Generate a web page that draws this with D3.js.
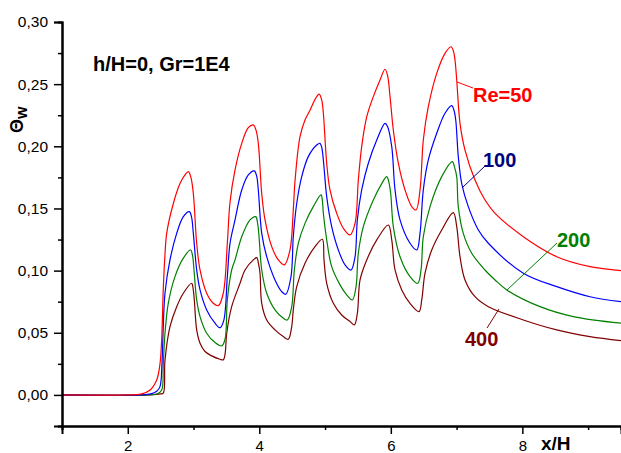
<!DOCTYPE html>
<html><head><meta charset="utf-8">
<script src="https://cdn.jsdelivr.net/npm/d3@7"></script>
<style>body{margin:0;background:#fff}svg{display:block}text{font-family:"Liberation Sans",Arial,sans-serif}</style>
</head><body><svg id="c" width="621" height="453"></svg>
<script>
const re50 = [[1,0],[2.0,0],[2.2,0.0006],[2.34,0.004],[2.44,0.012],[2.49,0.025],[2.516,0.045],[2.54,0.085],[2.566,0.113],[2.592,0.130],[2.693,0.154],[2.794,0.170],[2.87,0.177],[2.921,0.1796],[2.96,0.175],[2.997,0.162],[3.048,0.122],[3.099,0.1005],[3.2,0.0818],[3.301,0.0737],[3.377,0.0718],[3.453,0.082],[3.514,0.122],[3.555,0.155],[3.631,0.181],[3.733,0.2024],[3.833,0.215],[3.909,0.2172],[3.95,0.213],[3.985,0.2024],[4.037,0.162],[4.087,0.1408],[4.189,0.1193],[4.289,0.1086],[4.38,0.1046],[4.467,0.1166],[4.517,0.1488],[4.543,0.172],[4.619,0.2078],[4.695,0.2212],[4.771,0.229],[4.85,0.238],[4.91,0.242],[4.95,0.237],[4.974,0.2266],[5.025,0.1864],[5.075,0.1649],[5.177,0.1461],[5.278,0.1341],[5.38,0.1287],[5.456,0.138],[5.506,0.1729],[5.557,0.1997],[5.634,0.2238],[5.734,0.240],[5.836,0.2534],[5.912,0.262],[5.95,0.257],[5.988,0.240],[6.038,0.2131],[6.114,0.1864],[6.216,0.1649],[6.318,0.1515],[6.383,0.1488],[6.444,0.1649],[6.494,0.2051],[6.57,0.2319],[6.698,0.2587],[6.824,0.2748],[6.915,0.2801],[6.955,0.276],[6.976,0.2694],[7.002,0.2534],[7.052,0.2185],[7.128,0.197],[7.28,0.1729],[7.432,0.1568],[7.585,0.1461],[8.015,0.1273],[8.523,0.1112],[9.029,0.1032],[9.5,0.100]];
const re100 = [[1,0],[2.2,0],[2.35,0.0008],[2.44,0.003],[2.49,0.0067],[2.52,0.025],[2.54,0.055],[2.566,0.0818],[2.642,0.1086],[2.744,0.130],[2.845,0.1434],[2.936,0.1474],[2.97,0.143],[2.997,0.130],[3.048,0.1005],[3.099,0.0845],[3.2,0.0684],[3.327,0.0577],[3.403,0.0541],[3.46,0.060],[3.514,0.0952],[3.555,0.122],[3.631,0.1408],[3.733,0.1649],[3.833,0.177],[3.924,0.1802],[3.96,0.176],[3.985,0.1649],[4.037,0.130],[4.113,0.1112],[4.239,0.0925],[4.341,0.0831],[4.402,0.081],[4.482,0.0952],[4.517,0.1273],[4.569,0.154],[4.645,0.1756],[4.745,0.1917],[4.873,0.201],[4.923,0.2024],[4.95,0.199],[4.974,0.189],[5.025,0.1595],[5.101,0.1354],[5.202,0.1166],[5.304,0.1046],[5.395,0.1005],[5.456,0.1112],[5.491,0.1408],[5.557,0.1649],[5.658,0.1864],[5.786,0.2051],[5.912,0.2185],[5.95,0.216],[6.014,0.1997],[6.064,0.1649],[6.14,0.1408],[6.292,0.122],[6.394,0.1166],[6.444,0.130],[6.494,0.1649],[6.57,0.189],[6.698,0.2105],[6.824,0.2266],[6.926,0.2327],[6.96,0.229],[6.987,0.2212],[7.026,0.1917],[7.078,0.170],[7.178,0.1515],[7.331,0.1327],[7.483,0.122],[8.015,0.0979],[8.523,0.0871],[9.029,0.079],[9.5,0.075]];
const re200 = [[1,0],[2.3,0],[2.45,0.001],[2.516,0.004],[2.54,0.025],[2.566,0.0496],[2.616,0.0737],[2.718,0.0952],[2.845,0.110],[2.957,0.1166],[2.985,0.112],[3.007,0.1005],[3.048,0.0764],[3.099,0.063],[3.2,0.0496],[3.327,0.0421],[3.429,0.0394],[3.48,0.045],[3.514,0.0764],[3.58,0.1005],[3.631,0.1086],[3.733,0.1273],[3.859,0.1408],[3.946,0.1434],[3.975,0.138],[3.996,0.1273],[4.037,0.1005],[4.113,0.0818],[4.239,0.0684],[4.365,0.0617],[4.426,0.0603],[4.493,0.071],[4.533,0.1005],[4.593,0.122],[4.695,0.138],[4.821,0.1515],[4.939,0.1609],[4.96,0.156],[4.974,0.1461],[5.025,0.1247],[5.101,0.1032],[5.228,0.0885],[5.329,0.0804],[5.415,0.0764],[5.471,0.0871],[5.506,0.114],[5.582,0.1354],[5.734,0.1568],[5.862,0.170],[5.938,0.1756],[5.975,0.170],[5.998,0.1622],[6.038,0.1354],[6.14,0.1112],[6.292,0.0952],[6.409,0.0898],[6.459,0.1005],[6.494,0.1273],[6.596,0.1515],[6.774,0.1756],[6.935,0.1877],[6.97,0.183],[7.002,0.1756],[7.026,0.1515],[7.102,0.130],[7.23,0.114],[7.432,0.1005],[7.585,0.0925],[7.763,0.0845],[8.269,0.071],[8.775,0.063],[9.5,0.0577]];
const re400 = [[1,0],[2.35,0],[2.5,0.0008],[2.54,0.0014],[2.566,0.028],[2.642,0.055],[2.744,0.071],[2.845,0.0818],[2.972,0.0898],[2.995,0.085],[3.012,0.0764],[3.048,0.0523],[3.099,0.0416],[3.175,0.0349],[3.276,0.0314],[3.403,0.0287],[3.453,0.0282],[3.48,0.033],[3.505,0.0496],[3.58,0.071],[3.707,0.0898],[3.783,0.1005],[3.909,0.1086],[3.961,0.1104],[3.99,0.105],[4.011,0.0979],[4.037,0.0737],[4.113,0.0603],[4.239,0.0523],[4.365,0.0469],[4.441,0.0448],[4.493,0.055],[4.517,0.0684],[4.569,0.0871],[4.695,0.1059],[4.847,0.1193],[4.958,0.1252],[4.984,0.1086],[5.025,0.0898],[5.126,0.0737],[5.253,0.0643],[5.38,0.059],[5.445,0.0563],[5.491,0.0657],[5.532,0.0925],[5.634,0.1086],[5.786,0.1247],[5.962,0.1367],[6.014,0.1247],[6.064,0.1005],[6.166,0.0845],[6.292,0.0737],[6.429,0.067],[6.47,0.0764],[6.52,0.0979],[6.622,0.1166],[6.774,0.1327],[6.95,0.1466],[7.002,0.1354],[7.052,0.1112],[7.128,0.0925],[7.28,0.079],[7.483,0.071],[8.015,0.0603],[8.523,0.0523],[9.029,0.0469],[9.5,0.0437]];

const seriesNames = ["Re=50","100","200","400"];
const xMajor = [2,4,6,8];
const xMinor = [1,3,5,7,9];
const yMajor = [0,0.05,0.10,0.15,0.20,0.25,0.30];
const yMinor = [-0.025,0.025,0.075,0.125,0.175,0.225,0.275];

const svg = d3.select("#c");
const x = d3.scaleLinear().domain([1,9.5]).range([62,621]);
const y = d3.scaleLinear().domain([-0.025,0.30]).range([426,22]);
const fmt = d => d3.format(".2f")(d).replace(".", ",");

// curves
const line = d3.line().x(d=>x(d[0])).y(d=>y(d[1])).curve(d3.curveCatmullRom.alpha(0.5));
const series = [
  {data:re50, color:"#ff0000"},
  {data:re100, color:"#0000ff"},
  {data:re200, color:"#008000"},
  {data:re400, color:"#800000"}
];
series.slice().reverse().forEach(s=>{
  svg.append("path").attr("d", line(s.data)).attr("fill","none")
    .attr("stroke", s.color).attr("stroke-width",1.2);
});

// axes
const gx = svg.append("g").attr("transform","translate(0,426)");
gx.call(d3.axisBottom(x).tickValues(xMajor).tickSize(8).tickFormat(d3.format("d")));
gx.append("g").call(d3.axisBottom(x).tickValues(xMinor).tickSize(4).tickFormat(""));
const gy = svg.append("g").attr("transform","translate(62,0)");
gy.call(d3.axisLeft(y).tickValues(yMajor).tickSize(8).tickFormat(fmt));
gy.append("g").call(d3.axisLeft(y).tickValues(yMinor).tickSize(4).tickFormat(""));
svg.selectAll(".domain").attr("stroke","#000").attr("stroke-width",2);
svg.selectAll(".tick line").attr("stroke","#000").attr("stroke-width",1.5);
gx.selectAll(".tick text").attr("font-size",15).attr("fill","#000").attr("y",25).attr("dy",0)
  .style("font-family","Liberation Sans, Arial, sans-serif");
gy.selectAll(".tick text").attr("font-size",15.5).attr("fill","#000").attr("x",-14)
  .style("font-family","Liberation Sans, Arial, sans-serif");

// axis titles
svg.append("text").attr("x",541).attr("y",450).attr("font-size",19).attr("font-weight","bold").text("x/H");
const yt = svg.append("text").attr("transform","translate(23,133) rotate(-90)")
  .attr("font-size",18).attr("font-weight","bold");
yt.append("tspan").text("Θ");
yt.append("tspan").attr("dy",4).attr("font-size",16).text("w");

// subtitle
svg.append("text").attr("x",93).attr("y",71).attr("font-size",20).attr("font-weight","bold").text("h/H=0, Gr=1E4");

// labels with leaders
const labels = [
  {t:seriesNames[0], c:"#ff0000", lc:"#ff0000", tx:473, ty:102, l:[457,82,473,88]},
  {t:seriesNames[1], c:"#000080", lc:"#000080", tx:483, ty:167, l:[462,188,485,166]},
  {t:seriesNames[2], c:"#008000", lc:"#008000", tx:557, ty:247, l:[507,290,557,243]},
  {t:seriesNames[3], c:"#800000", lc:"#800000", tx:465, ty:346, l:[487,328,499,309]}
];
labels.forEach(d=>{
  svg.append("line").attr("x1",d.l[0]).attr("y1",d.l[1]).attr("x2",d.l[2]).attr("y2",d.l[3])
    .attr("stroke",d.lc).attr("stroke-width",1);
  svg.append("text").attr("x",d.tx).attr("y",d.ty).attr("font-size",20).attr("font-weight","bold")
    .attr("fill",d.c).text(d.t);
});
</script></body></html>
